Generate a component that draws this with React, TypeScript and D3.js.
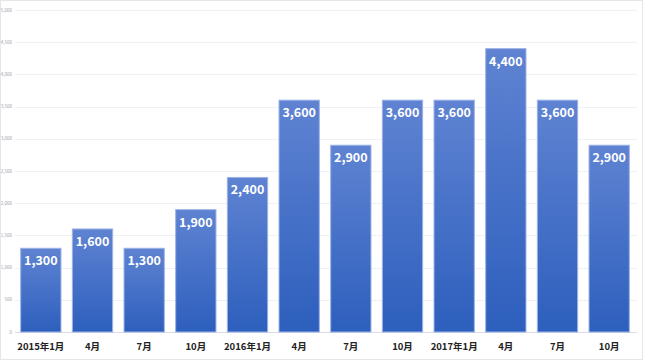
import React, { useEffect, useRef } from 'react';
import * as d3 from 'd3';

const categories = ['2015年1月', '4月', '7月', '10月', '2016年1月', '4月', '7月', '10月', '2017年1月', '4月', '7月', '10月'];
const values = [1300, 1600, 1300, 1900, 2400, 3600, 2900, 3600, 3600, 4400, 3600, 2900];
const yTicks = [0, 500, 1000, 1500, 2000, 2500, 3000, 3500, 4000, 4500, 5000];

const App: React.FC = () => {
  const svgRef = useRef<SVGSVGElement>(null);

  useEffect(() => {
    if (!svgRef.current) return;
    const width = 645;
    const height = 362;
    const svg = d3.select(svgRef.current);
    svg.selectAll('*').remove();

    const font = '"Noto Sans CJK JP", "Noto Sans", sans-serif';

    // frame
    svg.append('rect')
      .attr('x', 0.5).attr('y', 0.5)
      .attr('width', width - 3).attr('height', height - 3)
      .attr('fill', '#fff')
      .attr('stroke', '#e3e6eb');

    const defs = svg.append('defs');
    const grad = defs.append('linearGradient')
      .attr('id', 'barGrad')
      .attr('x1', 0).attr('y1', 0).attr('x2', 0).attr('y2', 1);
    grad.append('stop').attr('offset', '0%').attr('stop-color', '#5f83d2');
    grad.append('stop').attr('offset', '100%').attr('stop-color', '#2d5fbd');

    const x = d3.scaleBand<number>()
      .domain(d3.range(categories.length))
      .range([15, 635])
      .paddingInner(0.22)
      .paddingOuter(0.11);

    const y = d3.scaleLinear()
      .domain([0, 5000])
      .range([332, 10]);

    // gridlines
    svg.append('g')
      .selectAll('line')
      .data(yTicks)
      .enter()
      .append('line')
      .attr('x1', 15).attr('x2', 637)
      .attr('y1', d => Math.round(y(d)) + 0.5)
      .attr('y2', d => Math.round(y(d)) + 0.5)
      .attr('stroke', d => (d === 0 ? '#d9dde3' : '#eef0f3'))
      .attr('stroke-width', 1);

    // y tick labels
    svg.append('g')
      .selectAll('text')
      .data(yTicks)
      .enter()
      .append('text')
      .attr('x', 12)
      .attr('y', d => y(d) + 1.5)
      .attr('text-anchor', 'end')
      .attr('font-family', font)
      .attr('font-size', 4.5)
      .attr('fill', '#9aa0a8')
      .text(d => d3.format(',')(d));

    // bars
    svg.append('g')
      .selectAll('rect')
      .data(values)
      .enter()
      .append('rect')
      .attr('x', (_, i) => x(i) || 0)
      .attr('y', d => y(d))
      .attr('width', x.bandwidth())
      .attr('height', d => y(0) - y(d))
      .attr('fill', 'url(#barGrad)')
      .attr('stroke', '#9db3e6')
      .attr('stroke-width', 1);

    // value labels
    svg.append('g')
      .selectAll('text')
      .data(values)
      .enter()
      .append('text')
      .attr('x', (_, i) => (x(i) || 0) + x.bandwidth() / 2)
      .attr('y', d => y(d) + 17)
      .attr('text-anchor', 'middle')
      .attr('font-family', font)
      .attr('font-weight', 'bold')
      .attr('font-size', 12.5)
      .attr('fill', '#fff')
      .text(d => d3.format(',')(d));

    // category labels
    svg.append('g')
      .selectAll('text')
      .data(categories)
      .enter()
      .append('text')
      .attr('x', (_, i) => (x(i) || 0) + x.bandwidth() / 2)
      .attr('y', 350)
      .attr('text-anchor', 'middle')
      .attr('font-family', font)
      .attr('font-weight', 'bold')
      .attr('font-size', 9.5)
      .attr('fill', '#222')
      .text(d => d);
  }, []);

  return (
    <svg
      ref={svgRef}
      width={645}
      height={362}
      style={{ position: 'absolute', left: 0, top: 0, display: 'block' }}
    />
  );
};

export default App;
